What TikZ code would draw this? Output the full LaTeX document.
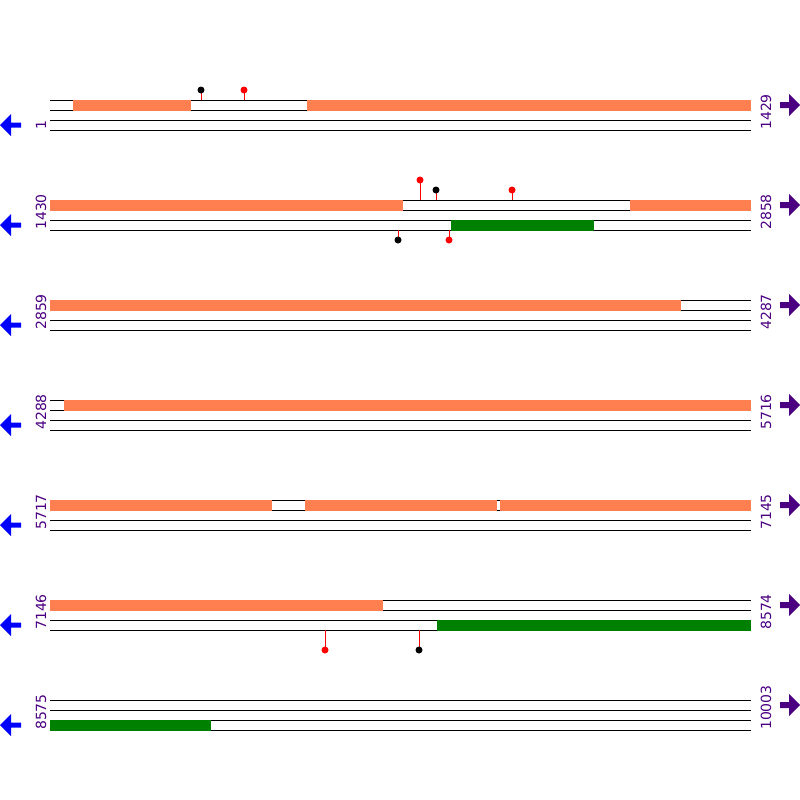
\documentclass[tikz,border=0pt]{standalone}
\usepackage{fontspec}
\newfontfamily\posfont{DejaVu Sans}
\usepackage{tikz}
\definecolor{featcoral}{HTML}{FF7F50}
\definecolor{featgreen}{HTML}{008000}
\definecolor{posindigo}{HTML}{4B0082}

\begin{document}
\begin{tikzpicture}[
    % 定義樣式 (1pt = 1px, y 軸向下)
    x=1pt, y=-1pt,
    strand/.style={draw=black, line width=1pt},
    cds box/.style={fill=featcoral},
    gene box/.style={fill=featgreen},
    stick/.style={draw=red, line width=1pt},
    pos label/.style={rotate=90, anchor=base west, inner sep=0pt,
        text=posindigo, font=\posfont\fontsize{14}{14}\selectfont},
    fwd arrow/.style={fill=posindigo},
    rev arrow/.style={fill=blue}
]
    \useasboundingbox (0,0) rectangle (800,800);

    % --- 1. 每一列: 四條線, 起訖位置, 方向箭頭 ---
    \foreach \r/\from/\to in {0/1/1429, 1/1430/2858, 2/2859/4287, 3/4288/5716,
                              4/5717/7145, 5/7146/8574, 6/8575/10003} {
        \pgfmathsetmacro{\rowy}{100+100*\r}
        \foreach \dy in {0,10,20,30}
            \draw[strand] (50,\rowy+\dy) -- (751,\rowy+\dy);
        \node[pos label] (start-\r) at (46,\rowy+30) {\from};
        \node[pos label] (end-\r) at (771,\rowy+30) {\to};
        \fill[fwd arrow] (780,\rowy+2) -- (789,\rowy+2) -- (789,\rowy-6)
            -- (800,\rowy+5) -- (789,\rowy+16) -- (789,\rowy+8) -- (780,\rowy+8) -- cycle;
        \fill[rev arrow] (21,\rowy+22.5) -- (11,\rowy+22.5) -- (11,\rowy+14)
            -- (0,\rowy+25) -- (11,\rowy+36) -- (11,\rowy+27.5) -- (21,\rowy+27.5) -- cycle;
    }

    % --- 2. 上股的橘色區塊 ---
    \foreach \r/\a/\b in {0/73/191, 0/307/751, 1/50/403, 1/630/751, 2/50/681,
                          3/64/751, 4/50/272, 4/305/497, 4/500/751, 5/50/383}
        \fill[cds box] (\a,99.5+100*\r) rectangle (\b,110.5+100*\r);

    % --- 3. 下股的綠色區塊 ---
    \foreach \r/\a/\b in {1/451/594, 5/437/751, 6/50/211}
        \fill[gene box] (\a,119.5+100*\r) rectangle (\b,130.5+100*\r);

    % --- 4. 標記點 (Lollipops) ---
    \foreach \x/\ya/\yb/\c in {201/100/90/black, 244/100/90/red,
                               420/200/180/red, 436/200/190/black, 512/200/190/red,
                               398/230/240/black, 449/230/240/red,
                               325/630/650/red, 419/630/650/black} {
        \draw[stick] (\x,\ya) -- (\x,\yb);
        \fill[\c] (\x,\yb) circle (3.5pt);
    }

\end{tikzpicture}
\end{document}
